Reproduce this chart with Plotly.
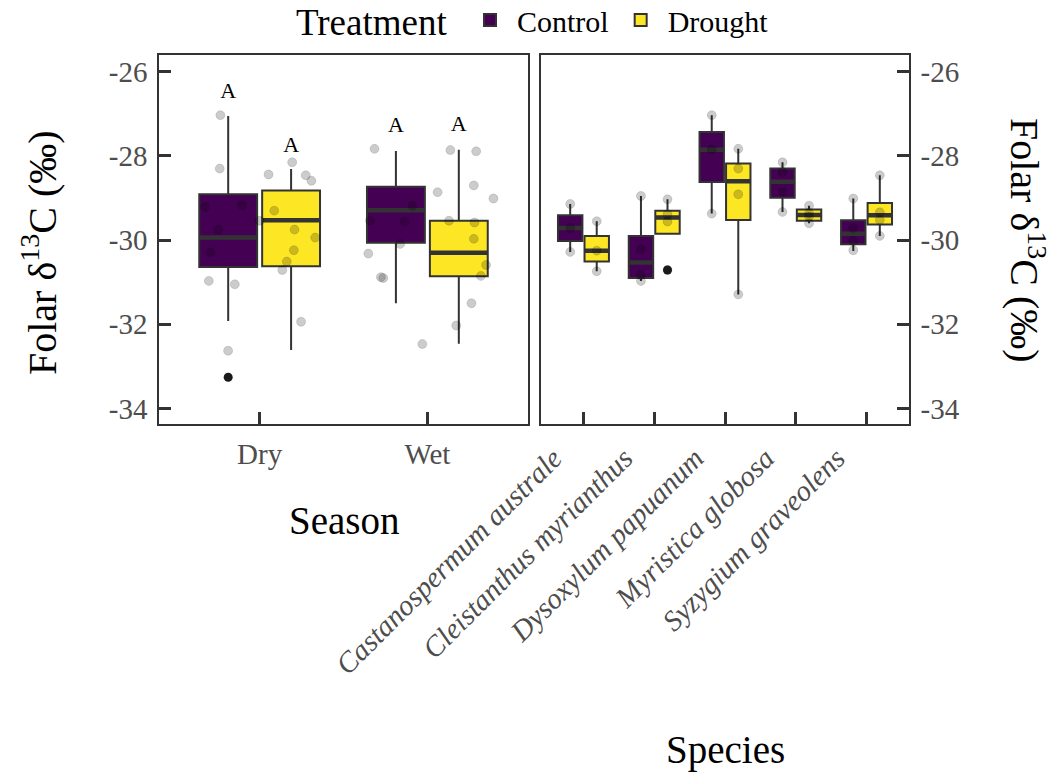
import plotly.graph_objects as go

# ---------------- data ----------------
seasons = ["Dry", "Wet"]
season_pos = [1, 2]
s_ctrl_q1 = [-30.64, -30.06]
s_ctrl_med = [-29.94, -29.29]
s_ctrl_q3 = [-28.91, -28.73]
s_ctrl_lo = [-31.92, -31.50]
s_ctrl_hi = [-27.05, -27.88]
s_dr_q1 = [-30.62, -30.86]
s_dr_med = [-29.53, -30.30]
s_dr_q3 = [-28.82, -29.54]
s_dr_lo = [-32.61, -32.46]
s_dr_hi = [-28.31, -27.85]
s_ctrl_outliers = [[-33.26], []]
s_dr_outliers = [[], []]
s_ctrl_letters = ["A", "A"]
s_dr_letters = ["A", "A"]
s_ctrl_letter_y = [-26.50, -27.31]
s_dr_letter_y = [-27.78, -27.28]

# raw observations (jittered around the season)
dry_pts = [-27.03, -28.30, -29.21, -29.17, -29.75, -30.29, -30.97, -31.05, -32.63,
           -29.54, -28.44, -28.15, -28.46, -28.59, -29.30, -29.75, -29.94, -30.24,
           -30.51, -30.71, -31.94]
dry_jit = [-0.234, -0.238, -0.325, -0.105, -0.247, -0.293, -0.303, -0.148, -0.188,
           0.000, 0.053, 0.194, 0.275, 0.309, 0.087, 0.208, 0.331, 0.204,
           0.162, 0.135, 0.247]
wet_pts = [-27.83, -29.54, -30.32, -30.88, -30.90, -30.09, -29.56, -29.18, -32.47,
           -27.86, -27.89, -28.86, -28.70, -29.01, -29.54, -29.58, -29.97, -30.59,
           -30.85, -31.50, -32.03]
wet_jit = [-0.315, -0.342, -0.352, -0.277, -0.263, -0.162, -0.137, -0.089, -0.030,
           0.137, 0.291, 0.061, 0.277, 0.394, 0.129, 0.281, 0.277, 0.350,
           0.319, 0.263, 0.172]

species = ["Castanospermum australe", "Cleistanthus myrianthus", "Dysoxylum papuanum",
           "Myristica globosa", "Syzygium graveolens"]
species_pos = [1, 2, 3, 4, 5]
sp_ctrl_q1 = [-30.02, -30.90, -28.62, -28.99, -30.10]
sp_ctrl_med = [-29.71, -30.53, -27.85, -28.61, -29.85]
sp_ctrl_q3 = [-29.41, -29.90, -27.43, -28.30, -29.53]
sp_ctrl_lo = [-30.28, -30.97, -29.37, -29.33, -30.26]
sp_ctrl_hi = [-29.14, -28.95, -27.03, -28.15, -29.01]
sp_dr_q1 = [-30.51, -29.85, -29.52, -29.54, -29.63]
sp_dr_med = [-30.25, -29.46, -28.60, -29.40, -29.41]
sp_dr_q3 = [-29.90, -29.30, -28.18, -29.27, -29.12]
sp_dr_lo = [-30.74, -29.85, -31.29, -29.60, -29.90]
sp_dr_hi = [-29.55, -29.03, -27.83, -29.18, -28.46]
sp_ctrl_pts = [[-29.14, -29.71, -30.28],
               [-28.95, -30.22, -30.83, -30.97],
               [-27.03, -27.85, -29.37],
               [-28.15, -28.38, -28.84, -29.33],
               [-29.01, -29.71, -30.02, -30.24]]
sp_dr_pts = [[-29.55, -30.25, -30.74],
             [-29.03, -29.39, -29.56, -30.71],
             [-27.83, -28.30, -28.91, -31.29],
             [-29.18, -29.36, -29.44, -29.60],
             [-28.46, -29.34, -29.52, -29.90]]
sp_ctrl_outliers = [[], [], [], [], []]
sp_dr_outliers = [[], [-30.71], [], [], []]

y_ticks = [-26, -28, -30, -32, -34]
y_ticktext = ["-26", "-28", "-30", "-32", "-34"]

# ---------------- style ----------------
FONT = "Liberation Serif"
PURPLE = "#440154"
YELLOW = "#FDE725"
EDGE = "#333333"
TICKCOL = "#4d4d4d"
BOXGAP = 0.25
DODGE = 0.5 * (1 - BOXGAP) / 2  # centre offset of each dodged box
PT_FILL = "rgba(0,0,0,0.2)"
PT_LINE = "rgba(0,0,0,0.12)"

W, H = 1055, 779
OFF = 0  # page body margin (removed by post_script)


def X(p):
    return (p - OFF) / W


def Y(p):
    return 1 - (p - OFF) / H


fig = go.Figure()


def add_boxes(pos, q1, med, q3, lo, hi, color, name, xa, ya, showlegend):
    fig.add_trace(go.Box(x=pos, q1=q1, median=med, q3=q3, lowerfence=lo, upperfence=hi,
                         name=name, legendgroup=name, showlegend=showlegend,
                         offsetgroup=name, fillcolor=color,
                         line=dict(color=EDGE, width=2), whiskerwidth=0,
                         boxpoints=False, xaxis=xa, yaxis=ya, hoverinfo="skip"))
    # thicker median bar
    fig.add_trace(go.Box(x=pos, q1=med, median=med, q3=med, lowerfence=med, upperfence=med,
                         name=name, legendgroup=name, showlegend=False,
                         offsetgroup=name, fillcolor="rgba(0,0,0,0)",
                         line=dict(color=EDGE, width=4.5), whiskerwidth=0,
                         boxpoints=False, xaxis=xa, yaxis=ya, hoverinfo="skip"))


add_boxes(season_pos, s_ctrl_q1, s_ctrl_med, s_ctrl_q3, s_ctrl_lo, s_ctrl_hi,
          PURPLE, "Control", "x", "y", True)
add_boxes(season_pos, s_dr_q1, s_dr_med, s_dr_q3, s_dr_lo, s_dr_hi,
          YELLOW, "Drought", "x", "y", True)
add_boxes(species_pos, sp_ctrl_q1, sp_ctrl_med, sp_ctrl_q3, sp_ctrl_lo, sp_ctrl_hi,
          PURPLE, "Control", "x2", "y2", False)
add_boxes(species_pos, sp_dr_q1, sp_dr_med, sp_dr_q3, sp_dr_lo, sp_dr_hi,
          YELLOW, "Drought", "x2", "y2", False)

# jittered raw points, season panel
px_, py_ = [], []
for p, ys, js in [(season_pos[0], dry_pts, dry_jit), (season_pos[1], wet_pts, wet_jit)]:
    for yv, jv in zip(ys, js):
        px_.append(p + jv)
        py_.append(yv)
fig.add_trace(go.Scatter(x=px_, y=py_, mode="markers", xaxis="x", yaxis="y",
                         marker=dict(size=9, color=PT_FILL, line=dict(color=PT_LINE, width=1)),
                         showlegend=False, hoverinfo="skip"))

# raw points, species panel (dodged by treatment)
qx, qy = [], []
for sign, pts in [(-1, sp_ctrl_pts), (1, sp_dr_pts)]:
    for p, ys in zip(species_pos, pts):
        for yv in ys:
            qx.append(p + sign * DODGE)
            qy.append(yv)
fig.add_trace(go.Scatter(x=qx, y=qy, mode="markers", xaxis="x2", yaxis="y2",
                         marker=dict(size=9, color=PT_FILL, line=dict(color=PT_LINE, width=1)),
                         showlegend=False, hoverinfo="skip"))

# outliers
for pos, c_out, d_out, xa, ya in [(season_pos, s_ctrl_outliers, s_dr_outliers, "x", "y"),
                                  (species_pos, sp_ctrl_outliers, sp_dr_outliers, "x2", "y2")]:
    ox, oy = [], []
    for sign, outs in [(-1, c_out), (1, d_out)]:
        for p, ys in zip(pos, outs):
            for yv in ys:
                ox.append(p + sign * DODGE)
                oy.append(yv)
    fig.add_trace(go.Scatter(x=ox, y=oy, mode="markers", xaxis=xa, yaxis=ya,
                             marker=dict(size=9, color="#1a1a1a"),
                             showlegend=False, hoverinfo="skip"))

# significance letters
lx, ly, lt = [], [], []
for sign, letters, ys in [(-1, s_ctrl_letters, s_ctrl_letter_y), (1, s_dr_letters, s_dr_letter_y)]:
    for p, t, yv in zip(season_pos, letters, ys):
        lx.append(p + sign * DODGE)
        ly.append(yv)
        lt.append(t)
fig.add_trace(go.Scatter(x=lx, y=ly, text=lt, mode="text", xaxis="x", yaxis="y",
                         textfont=dict(family=FONT, size=22, color="black"),
                         textposition="middle center", showlegend=False, hoverinfo="skip"))

axis_common = dict(showgrid=False, zeroline=False, showline=True, mirror=True,
                   linecolor=EDGE, linewidth=1.5, ticks="inside", ticklen=12,
                   tickwidth=3, tickcolor=EDGE, automargin=False,
                   tickfont=dict(family=FONT, size=29, color=TICKCOL))

YDOM = [Y(424), Y(55)]
YRANGE = [-34.37, -25.60]

fig.update_layout(
    width=W, height=H,
    margin=dict(l=0, r=0, t=0, b=0, autoexpand=False),
    paper_bgcolor="white", plot_bgcolor="white",
    boxmode="group", boxgap=BOXGAP, boxgroupgap=0.08,
    font=dict(family=FONT, color="black"),
    xaxis=dict(domain=[X(159), X(528)], range=[0.4, 2.6], tickvals=season_pos,
               ticktext=seasons, anchor="y", ticklabelstandoff=3, **axis_common),
    yaxis=dict(domain=YDOM, range=YRANGE, tickvals=y_ticks, ticktext=y_ticktext,
               anchor="x", ticklabelstandoff=4, **axis_common),
    xaxis2=dict(domain=[X(541), X(909)], range=[0.4, 5.6], tickvals=species_pos,
                ticktext=["<i>%s</i>" % s for s in species], tickangle=-45,
                ticklabelshift=-30,
                anchor="y2", ticklabelstandoff=4, **axis_common),
    yaxis2=dict(domain=YDOM, range=YRANGE, tickvals=y_ticks, ticktext=y_ticktext,
                anchor="x2", side="right", ticklabelstandoff=4, **axis_common),
    legend=dict(orientation="h", x=X(463), xanchor="left", y=Y(20), yanchor="middle",
                font=dict(family=FONT, size=30, color="black"),
                bgcolor="rgba(0,0,0,0)", itemwidth=44),
    annotations=[
        dict(text="Treatment", xref="paper", yref="paper", x=X(371), y=Y(22),
             showarrow=False, font=dict(family=FONT, size=37, color="black"),
             xanchor="center", yanchor="middle"),
        dict(text="Folar δ<sup>13</sup>C (‰)", xref="paper", yref="paper",
             x=X(39), y=Y(253), textangle=-90, showarrow=False,
             font=dict(family=FONT, size=40, color="black"), xanchor="center", yanchor="middle"),
        dict(text="Folar δ<sup>13</sup>C (‰)", xref="paper", yref="paper",
             x=X(1028), y=Y(240), textangle=90, showarrow=False,
             font=dict(family=FONT, size=40, color="black"), xanchor="center", yanchor="middle"),
        dict(text="Season", xref="paper", yref="paper", x=X(344), y=Y(520),
             showarrow=False, font=dict(family=FONT, size=39, color="black"),
             xanchor="center", yanchor="middle"),
        dict(text="Species", xref="paper", yref="paper", x=X(725), y=Y(750),
             showarrow=False, font=dict(family=FONT, size=39, color="black"),
             xanchor="center", yanchor="middle"),
    ],
)

fig.write_html("out.html", config={"displayModeBar": False},
               post_script="document.body.style.margin='0';")
